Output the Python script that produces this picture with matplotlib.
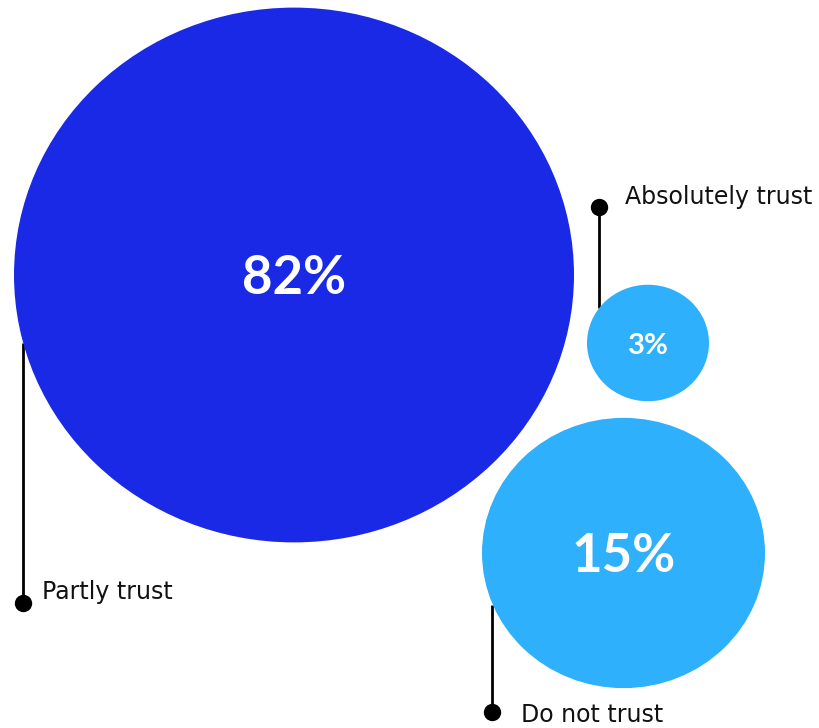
import matplotlib
matplotlib.use("Agg")
import matplotlib.pyplot as plt
from matplotlib.patches import Ellipse

# Survey answers and their shares (%)
categories = ["Partly trust", "Absolutely trust", "Do not trust"]
shares = [82, 3, 15]

# Bubble layout in pixel units (x, y from top-left), radius
centers_x = [294, 648, 623.5]
centers_y = [275, 343, 553]
radii = [280, 61, 141.5]
colors = ["#1A29E6", "#2EB0FC", "#2EB0FC"]
pct_sizes = [38, 21, 38]

# Leader lines: x, top of line, dot position, bottom of line, label placement
leader_x = [23, 599, 492]
leader_top = [343, 207, 605]
leader_dot = [603, 207, 712]
line_end = [603, 308, 712]
label_x = [42, 625, 521]
label_y = [592, 197, 715]

# the artwork is slightly stretched horizontally
x_stretch = 1.0
y_stretch = 0.955

fig = plt.figure(figsize=(8.2, 7.28), dpi=100)
ax = fig.add_axes([0, 0, 1, 1])
ax.set_xlim(0, 820)
ax.set_ylim(728, 0)
ax.axis("off")

for cx, cy, r, c in zip(centers_x, centers_y, radii, colors):
    ax.add_patch(Ellipse((cx, cy), 2 * r * x_stretch, 2 * r * y_stretch,
                         facecolor=c, edgecolor="none", zorder=1))

for cx, cy, v, fs in zip(centers_x, centers_y, shares, pct_sizes):
    ax.text(cx, cy + 3, f"{v}%", color="white", fontsize=fs, fontweight="bold",
            ha="center", va="center", family="Lato", zorder=3)

for name, lx, t, d, e, tx, ty in zip(categories, leader_x, leader_top,
                                     leader_dot, line_end, label_x, label_y):
    ax.plot([lx, lx], [t, e], color="black", lw=2.0, zorder=0,
            solid_capstyle="butt")
    ax.plot([lx], [d], "o", color="black", markersize=11.5, zorder=2)
    ax.text(tx, ty, name, fontsize=17, color="#111111", ha="left",
            va="center", family="DejaVu Sans", zorder=3)

fig.savefig("out.png", dpi=100)
